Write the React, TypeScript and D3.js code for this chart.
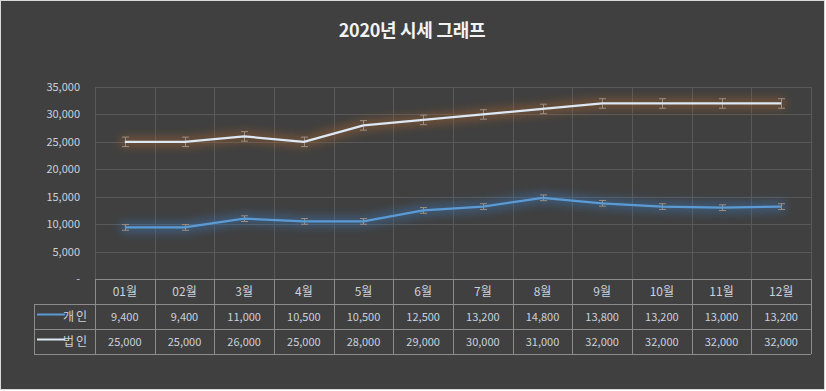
import React from "react";
import { scaleBand, scaleLinear, line, deviation, format } from "d3";

const months = ["01월", "02월", "3월", "4월", "5월", "6월", "7월", "8월", "9월", "10월", "11월", "12월"];
const personal = [9400, 9400, 11000, 10500, 10500, 12500, 13200, 14800, 13800, 13200, 13000, 13200];
const corporate = [25000, 25000, 26000, 25000, 28000, 29000, 30000, 31000, 32000, 32000, 32000, 32000];
const yTicks = [0, 5000, 10000, 15000, 20000, 25000, 30000, 35000];

const W = 826;
const H = 391;
const plot = { left: 95, right: 811, top: 87, bottom: 279 };
const rowH = 25;
const legendLeft = 34;
const font = "'Noto Sans CJK KR', 'Noto Sans', sans-serif";
const textColor = "#c9d1dd";

const fmt = format(",");

const series = [
  { name: "개인", values: personal, color: "#5b9bd5", glow: "#3a78b8" },
  { name: "법인", values: corporate, color: "#dce8f5", glow: "#a8622a" },
];

export default function App() {
  const x = scaleBand<string>().domain(months).range([plot.left, plot.right]);
  const y = scaleLinear().domain([0, 35000]).range([plot.bottom, plot.top]);
  const cx = (i: number) => (x(months[i]) as number) + x.bandwidth() / 2;

  const lineGen = line<number>()
    .x((_, i) => cx(i))
    .y((d) => y(d));

  const tableTop = plot.bottom;
  const tableBottom = tableTop + rowH * 3;

  return (
    <div style={{ position: "absolute", left: 0, top: 0 }}>
      <svg width={W} height={H} style={{ display: "block" }}>
        <defs>
          <filter id="glow" x="-10%" y="-60%" width="120%" height="220%">
            <feGaussianBlur stdDeviation="4" />
          </filter>
        </defs>
        <rect x={0} y={0} width={W} height={H} fill="#ffffff" />
        <rect x={0.5} y={0.5} width={824} height={389} fill="#404040" stroke="#d9d9d9" />

        <text
          x={412}
          y={37}
          textAnchor="middle"
          fill="#f2f2f2"
          fontFamily={font}
          fontWeight="bold"
          fontSize={18}
          letterSpacing={-0.3}
        >
          2020년 시세 그래프
        </text>

        {/* gridlines */}
        {yTicks.slice(1).map((t) => (
          <line
            key={t}
            x1={plot.left}
            x2={plot.right}
            y1={Math.round(y(t)) + 0.5}
            y2={Math.round(y(t)) + 0.5}
            stroke="#595959"
          />
        ))}
        {months.map((m) => (
          <line
            key={m}
            x1={Math.round(x(m) as number) + 0.5}
            x2={Math.round(x(m) as number) + 0.5}
            y1={plot.top}
            y2={plot.bottom}
            stroke="#595959"
          />
        ))}
        <line x1={plot.right + 0.5} x2={plot.right + 0.5} y1={plot.top} y2={plot.bottom} stroke="#595959" />

        {/* y tick labels */}
        {yTicks.map((t) => (
          <text
            key={t}
            x={80}
            y={y(t) + 4}
            textAnchor="end"
            fill={textColor}
            fontFamily={font}
            fontSize={11}
          >
            {t === 0 ? "-" : fmt(t)}
          </text>
        ))}

        {/* glow */}
        {series.map((s) => (
          <path
            key={s.name + "g"}
            d={lineGen(s.values) || ""}
            fill="none"
            stroke={s.glow}
            strokeWidth={11}
            strokeOpacity={0.45}
            strokeLinejoin="round"
            strokeLinecap="round"
            filter="url(#glow)"
          />
        ))}

        {/* error bars (standard error) */}
        {series.map((s) => {
          const se = (deviation(s.values) as number) / Math.sqrt(s.values.length);
          return s.values.map((v, i) => {
            const px = Math.round(cx(i)) + 0.5;
            const y1 = y(v + se);
            const y2 = y(v - se);
            return (
              <g key={s.name + i} stroke="#9d8e82" strokeWidth={1}>
                <line x1={px} x2={px} y1={y1} y2={y2} />
                <line x1={px - 3.5} x2={px + 3.5} y1={y1} y2={y1} />
                <line x1={px - 3.5} x2={px + 3.5} y1={y2} y2={y2} />
              </g>
            );
          });
        })}

        {/* lines */}
        {series.map((s) => (
          <path
            key={s.name}
            d={lineGen(s.values) || ""}
            fill="none"
            stroke={s.color}
            strokeWidth={2.25}
            strokeLinejoin="round"
          />
        ))}

        {/* data table */}
        <g stroke="#8c8c8c" strokeWidth={1} fill="none">
          <line x1={plot.left} x2={plot.right} y1={tableTop + 0.5} y2={tableTop + 0.5} />
          {[1, 2, 3].map((r) => (
            <line
              key={r}
              x1={legendLeft}
              x2={plot.right}
              y1={tableTop + r * rowH + 0.5}
              y2={tableTop + r * rowH + 0.5}
            />
          ))}
          <line
            x1={legendLeft + 0.5}
            x2={legendLeft + 0.5}
            y1={tableTop + rowH}
            y2={tableBottom}
          />
          {months.map((m) => (
            <line
              key={m}
              x1={Math.round(x(m) as number) + 0.5}
              x2={Math.round(x(m) as number) + 0.5}
              y1={tableTop}
              y2={tableBottom}
            />
          ))}
          <line x1={plot.right + 0.5} x2={plot.right + 0.5} y1={tableTop} y2={tableBottom} />
        </g>

        {months.map((m, i) => (
          <text
            key={m}
            x={cx(i)}
            y={tableTop + rowH / 2 + 4.5}
            textAnchor="middle"
            fill={textColor}
            fontFamily={font}
            fontSize={12}
          >
            {m}
          </text>
        ))}

        {series.map((s, r) => {
          const rowY = tableTop + rowH * (r + 1);
          return (
            <g key={s.name + "row"}>
              <line
                x1={37}
                x2={65}
                y1={rowY + 10.5}
                y2={rowY + 10.5}
                stroke={s.color}
                strokeWidth={2}
              />
              <text
                x={89}
                y={rowY + rowH / 2 + 4.5}
                textAnchor="end"
                fill={textColor}
                fontFamily={font}
                fontSize={12}
                letterSpacing={2}
              >
                {s.name}
              </text>
              {s.values.map((v, i) => (
                <text
                  key={i}
                  x={cx(i)}
                  y={rowY + rowH / 2 + 4.5}
                  textAnchor="middle"
                  fill={textColor}
                  fontFamily={font}
                  fontSize={11}
                >
                  {fmt(v)}
                </text>
              ))}
            </g>
          );
        })}
      </svg>
    </div>
  );
}
